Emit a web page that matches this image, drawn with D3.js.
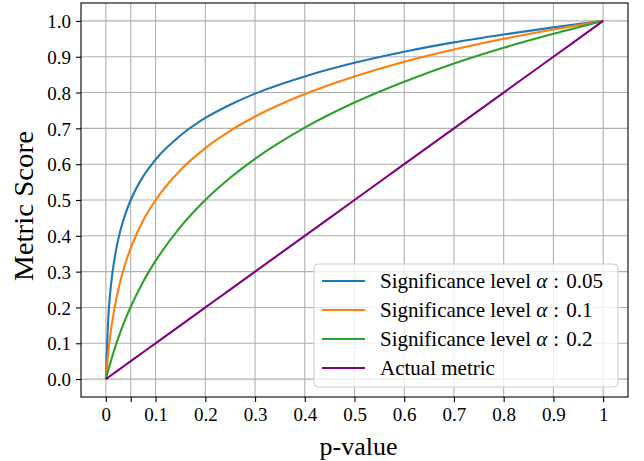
<!DOCTYPE html>
<html>
<head>
<meta charset="utf-8">
<script src="https://cdn.jsdelivr.net/npm/d3@7"></script>
<style>
  body { margin: 0; background: #fff; }
  svg text { font-family: "Liberation Serif", "DejaVu Serif", serif; fill: #000; }
</style>
</head>
<body>
<svg id="chart"></svg>
<script>
// p-values where the curves were read
let pValues = [0, 0.005, 0.01, 0.02, 0.03, 0.04, 0.05, 0.075, 0.1, 0.15, 0.2, 0.25, 0.3, 0.4, 0.5, 0.6, 0.7, 0.8, 0.9, 1.0];
let alpha005 = [0, 0.175, 0.259, 0.357, 0.419, 0.464, 0.500, 0.566, 0.613, 0.680, 0.729, 0.766, 0.797, 0.845, 0.883, 0.914, 0.940, 0.962, 0.982, 1.0];
let alpha01  = [0, 0.077, 0.134, 0.217, 0.278, 0.327, 0.366, 0.443, 0.500, 0.584, 0.645, 0.693, 0.733, 0.796, 0.845, 0.886, 0.920, 0.950, 0.976, 1.0];
let alpha02  = [0, 0.026, 0.050, 0.095, 0.134, 0.170, 0.202, 0.272, 0.330, 0.425, 0.500, 0.562, 0.615, 0.702, 0.772, 0.830, 0.881, 0.925, 0.964, 1.0];
let actual   = [0, 0.005, 0.01, 0.02, 0.03, 0.04, 0.05, 0.075, 0.1, 0.15, 0.2, 0.25, 0.3, 0.4, 0.5, 0.6, 0.7, 0.8, 0.9, 1.0];

let seriesNames = ['Significance level ', 'Significance level ', 'Significance level ', 'Actual metric'];
let seriesAlpha = ['0.05', '0.1', '0.2', null];
let seriesColors = ['#1f77b4', '#ff7f0e', '#2ca02c', '#800080'];

let xTicks = [0, 0.05, 0.1, 0.2, 0.3, 0.4, 0.5, 0.6, 0.7, 0.8, 0.9, 1];
let xTickLabels = ['0', '', '0.1', '0.2', '0.3', '0.4', '0.5', '0.6', '0.7', '0.8', '0.9', '1'];
let yTicks = [0, 0.1, 0.2, 0.3, 0.4, 0.5, 0.6, 0.7, 0.8, 0.9, 1.0];

let W = 644, H = 461;
let margin = {top: 3, right: 16, bottom: 64, left: 81};
let width = W - margin.left - margin.right;
let height = H - margin.top - margin.bottom;

let root = d3.select('#chart').attr('width', W).attr('height', H);
let svg = root.append('g')
    .attr('transform', 'translate(' + margin.left + ',' + margin.top + ')');

let xScale = d3.scaleLinear().domain([-0.05, 1.05]).range([0, width]);
let yScale = d3.scaleLinear().domain([-0.05, 1.05]).range([height, 0]);

// grid
svg.append('g').selectAll('line.gx')
    .data(xTicks).enter().append('line')
    .attr('x1', d => xScale(d)).attr('x2', d => xScale(d))
    .attr('y1', 0).attr('y2', height)
    .attr('stroke', '#b0b0b0').attr('stroke-width', 1.1);
svg.append('g').selectAll('line.gy')
    .data(yTicks).enter().append('line')
    .attr('y1', d => yScale(d)).attr('y2', d => yScale(d))
    .attr('x1', 0).attr('x2', width)
    .attr('stroke', '#b0b0b0').attr('stroke-width', 1.1);

// curves
let allSeries = [alpha005, alpha01, alpha02, actual];
let line = d3.line()
    .x((d, i) => xScale(pValues[i]))
    .y(d => yScale(d))
    .curve(d3.curveMonotoneX);

allSeries.forEach(function (vals, k) {
    svg.append('path')
        .datum(vals)
        .attr('d', line)
        .attr('fill', 'none')
        .attr('stroke', seriesColors[k])
        .attr('stroke-width', 2.1);
});

// axes
let xAxis = d3.axisBottom(xScale)
    .tickValues(xTicks)
    .tickFormat((d, i) => xTickLabels[i])
    .tickSize(5).tickPadding(6);
let gx = svg.append('g')
    .attr('transform', 'translate(0,' + height + ')')
    .call(xAxis);

let yAxis = d3.axisLeft(yScale)
    .tickValues(yTicks)
    .tickFormat(d3.format('.1f'))
    .tickSize(5).tickPadding(5);
let gy = svg.append('g').call(yAxis);

[gx, gy].forEach(function (g) {
    g.attr('font-family', null);
    g.select('.domain').remove();
    g.selectAll('.tick line').attr('stroke', '#000').attr('stroke-width', 1.1);
    g.selectAll('.tick text').style('font-size', '19px');
});
gy.selectAll('.tick text').attr('dy', '0.35em');

// frame
svg.append('rect')
    .attr('width', width).attr('height', height)
    .attr('fill', 'none').attr('stroke', '#000').attr('stroke-width', 1.1);

// axis labels
svg.append('text')
    .attr('x', width / 2 + 4).attr('y', height + 58)
    .attr('text-anchor', 'middle')
    .style('font-size', '26px')
    .text('p-value');

svg.append('text')
    .attr('transform', 'translate(' + (-48) + ',' + 203 + ') rotate(-90)')
    .attr('text-anchor', 'middle')
    .attr('textLength', 150)
    .attr('lengthAdjust', 'spacingAndGlyphs')
    .style('font-size', '27px')
    .text('Metric Score');

// legend
let legend = svg.append('g').attr('transform', 'translate(' + (314 - margin.left) + ',' + (264 - margin.top) + ')');
legend.append('rect')
    .attr('width', 304).attr('height', 123)
    .attr('rx', 4).attr('ry', 4)
    .attr('fill', 'white').attr('fill-opacity', 0.8)
    .attr('stroke', '#cccccc').attr('stroke-width', 1);

seriesNames.forEach(function (name, k) {
    let yy = 17 + k * 29;
    legend.append('line')
        .attr('x1', 8).attr('x2', 51)
        .attr('y1', yy).attr('y2', yy)
        .attr('stroke', seriesColors[k]).attr('stroke-width', 2.1);
    let t = legend.append('text')
        .attr('x', 66).attr('y', yy)
        .attr('dy', '0.33em')
        .style('font-size', '21px');
    t.append('tspan').text(name);
    if (seriesAlpha[k] !== null) {
        t.append('tspan').style('font-style', 'italic').text('α');
        t.append('tspan').attr('dx', 6).text(':');
        t.append('tspan').attr('dx', 7).text(seriesAlpha[k]);
    }
});
</script>
</body>
</html>
